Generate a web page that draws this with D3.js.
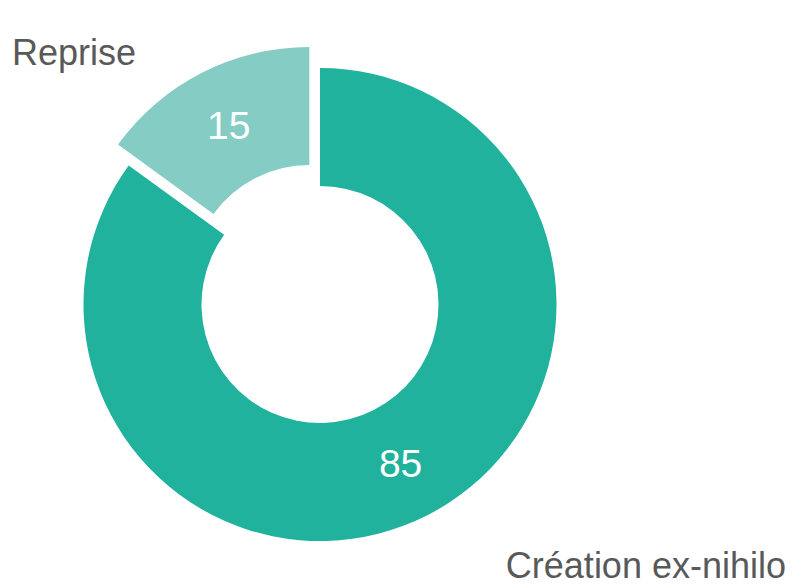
<!DOCTYPE html>
<html>
<head>
<meta charset="utf-8">
<script src="https://cdn.jsdelivr.net/npm/d3@7"></script>
<style>
html,body{margin:0;padding:0;background:#fff;}
svg{display:block;font-family:"Liberation Sans",Arial,sans-serif;}
</style>
</head>
<body>
<svg id="chart" width="792" height="587"></svg>
<script>
const categories = ["Création ex-nihilo", "Reprise"];
const values = [85, 15];
const colors = ["#20B29C", "#85CCC5"];
const explode = [0, 23.5];

const svg = d3.select("#chart");
const cx = 320, cy = 304.5, rOuter = 236.5, rInner = 118.5;
const g = svg.append("g").attr("transform", `translate(${cx},${cy})`);

const pie = d3.pie().sort(null).value(d => d.v);
const data = pie(categories.map((c, i) => ({c, v: values[i], i})));
const arc = d3.arc().innerRadius(rInner).outerRadius(rOuter);

const slices = g.selectAll("g.slice").data(data).enter().append("g")
  .attr("class", "slice")
  .attr("transform", d => {
    const a = (d.startAngle + d.endAngle) / 2;
    const o = explode[d.data.i];
    return `translate(${Math.sin(a) * o},${-Math.cos(a) * o})`;
  });

slices.append("path").attr("d", arc).attr("fill", d => colors[d.data.i]);

slices.append("text")
  .attr("transform", d => `translate(${arc.centroid(d)})`)
  .attr("text-anchor", "middle")
  .attr("dy", "0.36em")
  .attr("fill", "#ffffff")
  .attr("font-size", 39)
  .text(d => d.data.v);

// category labels outside
svg.append("text").attr("x", 12).attr("y", 65).attr("fill", "#595959")
  .attr("font-size", 36).text(categories[1]);
svg.append("text").attr("x", 786).attr("y", 578).attr("text-anchor", "end")
  .attr("fill", "#595959").attr("font-size", 36).text(categories[0]);
</script>
</body>
</html>
